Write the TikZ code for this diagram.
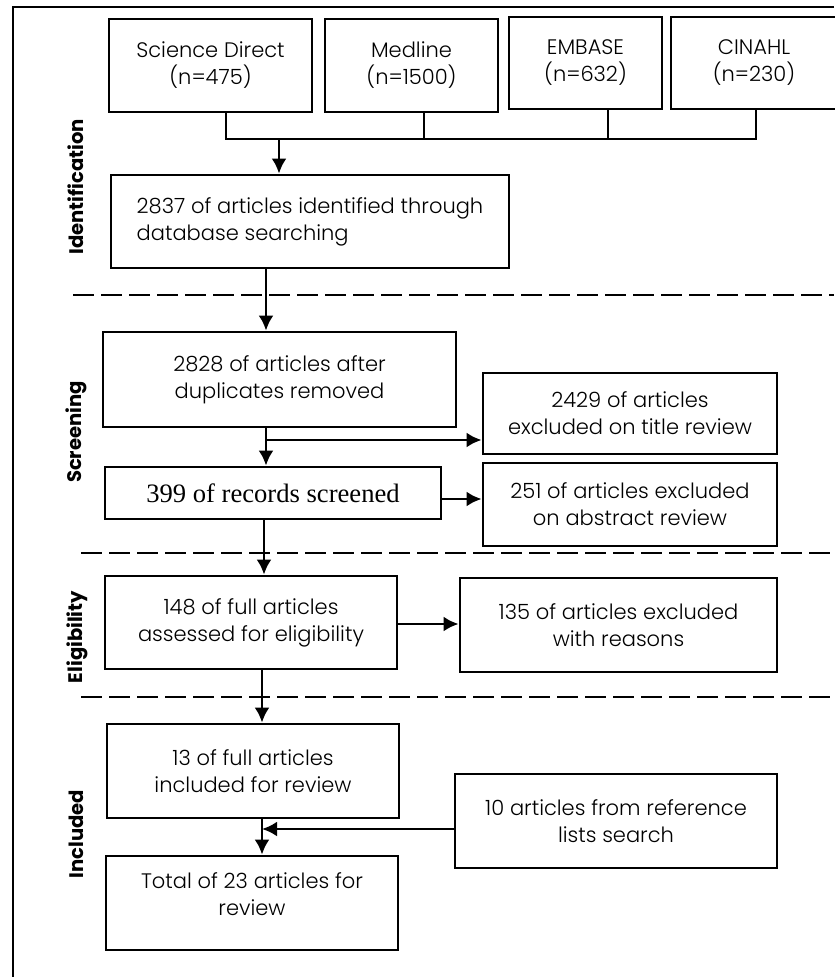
\documentclass[tikz,border=0pt]{standalone}
\usepackage{fontspec}
\IfFontExistsTF{Poppins Light}{\setmainfont{Poppins Light}[BoldFont=Poppins Bold]}{\setmainfont{Poppins}}
\newfontfamily\timesfont{Liberation Serif}
\usetikzlibrary{arrows.meta}
\tikzset{
  box/.style={draw, line width=1.4pt, align=center, inner sep=0pt, font=\fontsize{10.5}{13.5}\selectfont},
  phase/.style={rotate=90, font=\bfseries\fontsize{9.8}{11}\selectfont},
  sep/.style={line width=1.4pt, dash pattern=on 10.5pt off 3.5pt},
  bus/.style={line width=0.6pt}
}
\begin{document}
\begin{tikzpicture}[x=0.5pt, y=-0.5pt, >={Latex[length=7.5pt,width=7.5pt]}]
    % coordinates are pixels of the 834 x 977 flow chart, y axis pointing down
    \useasboundingbox (0,0) rectangle (834,977);
    \draw[line width=1pt] (834,7) -- (13,7) -- (13,977);
    % databases
    \node[box, minimum width=101.5pt, minimum height=46.5pt] (sd) at (210.5,65.5) {Science Direct\\(n=475)};
    \node[box, minimum width=86.5pt, minimum height=46.5pt] (med) at (411.5,65.5) {Medline\\(n=1500)};
    \node[box, minimum width=76.5pt, minimum height=46pt] (emb) at (585.5,63) {EMBASE\\(n=632)};
    \node[box, minimum width=83pt, minimum height=46pt] (cin) at (754,63) {CINAHL\\(n=230)};
    \coordinate (b0) at (279,139);
    \coordinate (b1) at (226,139);
    \coordinate (b2) at (424,139);
    \coordinate (b3) at (608,139);
    \coordinate (b4) at (756,139);
    \draw[bus] (sd.south -| b1) -- (b1) -- (b4) -- (cin.south -| b4);
    \draw[bus] (med.south -| b2) -- (b2);
    \draw[bus] (emb.south -| b3) -- (b3);
    \node[box, align=left, minimum width=199pt, minimum height=46.5pt] (ident) at (310,221.5) {2837 of articles identified through\\database searching};
    \draw[->, line width=1.4pt] (b0) -- (ident.north -| b0);
    % screening
    \node[box, minimum width=176.5pt, minimum height=47.5pt] (scr) at (279.5,379.5) {2828 of articles after\\duplicates removed};
    \node[box, minimum width=147pt, minimum height=40.5pt] (extitle) at (630,413.5) {2429 of articles\\excluded on title review};
    \node[box, minimum width=168pt, minimum height=26pt, font=\timesfont\fontsize{13.3}{15}\selectfont] (rec) at (273,493) {399 of records screened};
    \node[box, minimum width=147pt, minimum height=41.5pt] (exabs) at (630,504.5) {251 of articles excluded\\on abstract review};
    \coordinate (c1) at (266,0);
    \coordinate (c2) at (264,0);
    \coordinate (c3) at (262,0);
    \coordinate (t1) at (266,440);
    \coordinate (t2) at (441,499);
    \draw[->, line width=1.4pt] (ident.south -| c1) -- (scr.north -| c1);
    \draw[->, line width=1.4pt] (scr.south -| c1) -- (rec.north -| c1);
    \draw[->, line width=1.4pt] (t1) -- (extitle.west |- t1);
    \draw[->, line width=1.4pt] (t2) -- (exabs.west |- t2);
    % eligibility
    \node[box, minimum width=146pt, minimum height=46.5pt] (full) at (251,622.5) {148 of full articles\\assessed for eligibility};
    \node[box, minimum width=158.5pt, minimum height=47pt] (exfull) at (618.5,625) {135 of articles excluded\\with reasons};
    \coordinate (t3) at (397,624);
    \draw[->, line width=1.4pt] (rec.south -| c2) -- (full.north -| c2);
    \draw[->, line width=1.4pt] (t3) -- (exfull.west |- t3);
    % included
    \node[box, minimum width=146pt, minimum height=47pt] (incl) at (253,771) {13 of full articles\\included for review};
    \node[box, minimum width=161pt, minimum height=47pt] (refs) at (616,821) {10 articles from reference\\lists search};
    \node[box, minimum width=146pt, minimum height=47pt] (total) at (252,903) {Total of 23 articles for\\review\\[-5pt]\mbox{}};
    \coordinate (t4) at (262,829);
    \draw[->, line width=1.4pt] (full.south -| c3) -- (incl.north -| c3);
    \draw[->, line width=1.4pt] (incl.south -| c3) -- (total.north -| c3);
    \draw[->, line width=1.4pt] (refs.west |- t4) -- (t4);
    % phase separators and labels
    \draw[sep] (73,295) -- (834,295);
    \draw[sep] (81,553) -- (834,553);
    \draw[sep] (81,697) -- (834,697);
    \node[phase] (lident) at (76,187) {Identification};
    \node[phase] (lscr) at (76,432) {Screening};
    \node[phase] (lelig) at (77,637) {Eligibility};
    \node[phase] (lincl) at (76,834) {Included};
  \end{tikzpicture}
\end{document}
